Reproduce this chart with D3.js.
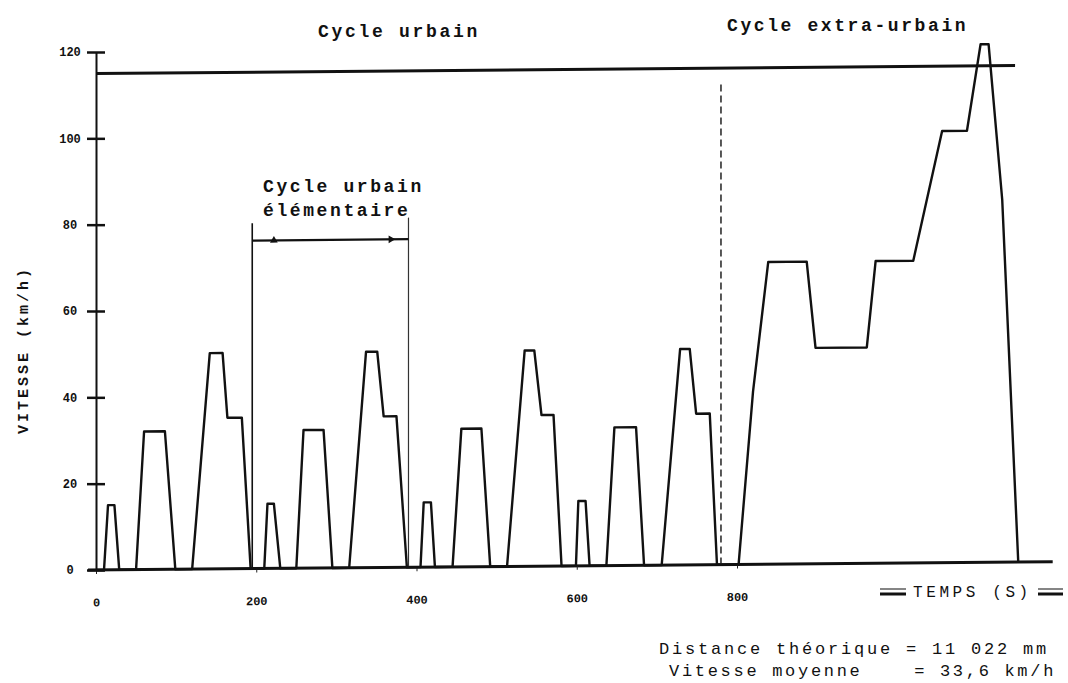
<!DOCTYPE html>
<html><head><meta charset="utf-8">
<script src="https://cdn.jsdelivr.net/npm/d3@7"></script>
<style>
body{margin:0;background:#fff;}
svg{display:block;}
text{font-family:"Liberation Mono","DejaVu Sans Mono",monospace;fill:#111;}
</style></head><body>
<svg id="c" width="1068" height="683"></svg>
<script>
// time (s) and speed (km/h)
const time = [0,10,15,23,29,50,60,86,99,120,142,158,164,182,193,
  210,214,222,230,250,259,284,295,316,337,351,359,375,388,
  405,409,418,423,445,456,481,492,513,535,547,556,571,581,
  599,602,611,616,637,647,674,684,706,729,741,749,766,775,
  802,820,839,887,898,962,973,1020,1056,1087,1104,1114,1131,1151];
const speed = [0,0,15,15,0,0,32,32,0,0,50,50,35,35,0,
  0,15,15,0,0,32,32,0,0,50,50,35,35,0,
  0,15,15,0,0,32,32,0,0,50,50,35,35,0,
  0,15,15,0,0,32,32,0,0,50,50,35,35,0,
  0,40,70,70,50,50,70,70,100,100,120,120,84,0];
const yTicks = [0,20,40,60,80,100,120];
const xTicks = [0,200,400,600,800];
const phaseLabels = ["Cycle urbain","Cycle extra-urbain"];
const elemLabel = ["Cycle urbain","élémentaire"];
const elemBounds = [195,390];
const phaseBoundary = 780;
const topLevel = 115;
const infoLines = ["Distance théorique = 11 022 mm","Vitesse moyenne    = 33,6 km/h"];

const svg = d3.select("#c");
const x = d3.scaleLinear().domain([0,800]).range([96,737]);
const y = d3.scaleLinear().domain([0,120]).range([570,52]);

const g = svg.append("g").attr("transform","translate(96,0) skewY(-0.5) translate(-96,0)");

// top frame line
g.append("line").attr("x1",x(0)).attr("x2",x(1147)).attr("y1",y(topLevel)).attr("y2",y(topLevel))
 .attr("stroke","#111").attr("stroke-width",3);

// x baseline
g.append("line").attr("x1",x(-10)).attr("x2",x(1194)).attr("y1",y(0)).attr("y2",y(0))
 .attr("stroke","#111").attr("stroke-width",3);

// x axis ticks/labels
const xa = g.append("g").attr("transform",`translate(0,${y(0)})`)
 .call(d3.axisBottom(x).tickValues(xTicks).tickSize(4).tickSizeOuter(0).tickPadding(24));
xa.select(".domain").remove();
xa.selectAll(".tick line").attr("stroke","#222").attr("stroke-width",1);
xa.selectAll("text").attr("font-size",12).attr("font-weight","bold")
 .attr("font-family","'Liberation Mono',monospace").attr("fill","#111");

// y axis
const ya = svg.append("g").attr("transform",`translate(${x(0)},0)`)
 .call(d3.axisLeft(y).tickValues(yTicks).tickSize(9).tickSizeOuter(0).tickPadding(0));
ya.select(".domain").attr("stroke","#111").attr("stroke-width",2);
ya.selectAll(".tick line").attr("x1",9).attr("stroke","#111").attr("stroke-width",2.5);
ya.selectAll("text").attr("x",-26).attr("text-anchor","middle").attr("font-size",12).attr("font-weight","bold")
 .attr("font-family","'Liberation Mono',monospace").attr("fill","#111");

// elementary cycle markers
g.append("line").attr("x1",x(elemBounds[0])).attr("x2",x(elemBounds[0])).attr("y1",y(0)).attr("y2",y(80))
 .attr("stroke","#111").attr("stroke-width",1.6);
g.append("line").attr("x1",x(elemBounds[1])).attr("x2",x(elemBounds[1])).attr("y1",y(0)).attr("y2",y(81))
 .attr("stroke","#333").attr("stroke-width",1.2);
g.append("line").attr("x1",x(elemBounds[0])).attr("x2",x(elemBounds[1])).attr("y1",y(76)).attr("y2",y(76))
 .attr("stroke","#111").attr("stroke-width",2.2);
const tri = d3.symbol().type(d3.symbolTriangle).size(26);
g.append("path").attr("d",tri()).attr("fill","#111")
 .attr("transform",`translate(${x(222)},${y(76)})`);
g.append("path").attr("d",tri()).attr("fill","#111")
 .attr("transform",`translate(${x(368)},${y(76)}) rotate(90)`);

// phase boundary dashed
g.append("line").attr("x1",x(phaseBoundary)).attr("x2",x(phaseBoundary)).attr("y1",y(0)).attr("y2",y(112))
 .attr("stroke","#222").attr("stroke-width",1.5).attr("stroke-dasharray","7,4");

// speed profile
const line = d3.line().x(i=>x(time[i])).y(i=>y(speed[i]));
g.append("path").attr("d",line(d3.range(time.length)))
 .attr("fill","none").attr("stroke","#111").attr("stroke-width",2.4).attr("stroke-linejoin","round");

// texts
const T = (s,xx,yy,size,weight,ls)=>svg.append("text").attr("x",xx).attr("y",yy).attr("font-size",size)
 .attr("font-weight",weight).attr("letter-spacing",ls).style("white-space","pre").text(s);
T(phaseLabels[0],318,37,18,"bold",2.7);
T(phaseLabels[1],727,31,18,"bold",2.6);
T(elemLabel[0],263,192,18,"bold",2.6);
T(elemLabel[1],263,216,18,"bold",2.6);
svg.append("text").attr("transform","translate(28,350) rotate(-90)").attr("text-anchor","middle")
 .attr("font-size",15).attr("font-weight","bold").attr("letter-spacing",3).text("VITESSE (km/h)");
T("TEMPS (S)",913,597,16,"normal",3.6);
[[880,906],[1038,1063]].forEach(([a,b])=>{
  svg.append("line").attr("x1",a).attr("x2",b).attr("y1",589).attr("y2",589).attr("stroke","#333").attr("stroke-width",1.2);
  svg.append("line").attr("x1",a).attr("x2",b).attr("y1",594).attr("y2",594).attr("stroke","#111").attr("stroke-width",3);
});
T(infoLines[0],659,654,17,"normal",2.8);
T(infoLines[1],669,676,17,"normal",2.7);
</script>
</body></html>
